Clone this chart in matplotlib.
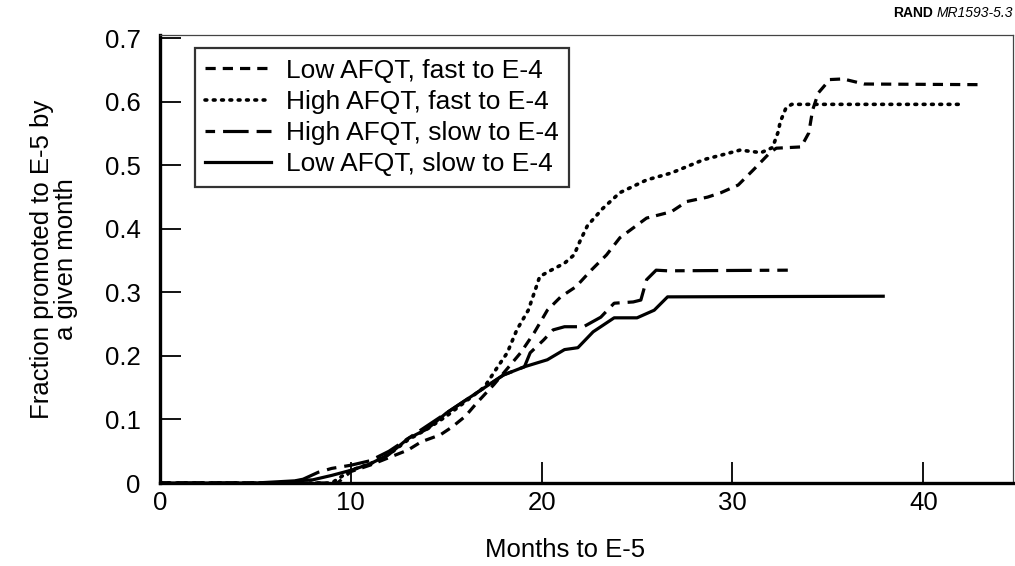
"""Fraction promoted to E-5 by month, four AFQT / E-4 speed groups."""

import matplotlib
matplotlib.use("Agg")
import matplotlib.pyplot as plt

plt.rcParams['font.family'] = ['Liberation Sans', 'DejaVu Sans']

# data (months, fraction)
low_fast_x = [0, 9.3, 10, 11, 12, 13, 13.7, 14.7, 15.3, 16, 16.6, 17.5, 18.2, 18.9, 19.6, 20.3, 21.0,
              21.8, 22.6, 23.4, 24.1, 25.5, 26.8, 27.6, 28.7, 29.4, 30.3, 31.1, 32.0, 32.3, 33.6,
              34.0, 34.2, 34.5, 35.1, 35.8, 36.9, 42.9]
low_fast_y = [0, 0, 0.018, 0.028, 0.04, 0.052, 0.065, 0.076, 0.088, 0.105, 0.126, 0.155, 0.18, 0.205,
              0.236, 0.272, 0.293, 0.309, 0.335, 0.359, 0.386, 0.417, 0.427, 0.443, 0.45, 0.457,
              0.469, 0.493, 0.521, 0.527, 0.529, 0.551, 0.587, 0.614, 0.635, 0.636, 0.628, 0.627]

high_fast_x = [0, 9.0, 10, 11, 12, 13, 14, 15, 16, 17, 17.7, 18.2, 18.7, 19.3, 19.7, 19.9, 20.5,
               21.2, 21.7, 22.0, 22.4, 23.2, 24.1, 25.5, 26.8, 28.5, 29.4, 30.4, 31.5, 32.1, 32.4,
               32.5, 32.8, 33.1, 42.0]
high_fast_y = [0, 0, 0.02, 0.03, 0.045, 0.068, 0.085, 0.105, 0.128, 0.151, 0.183, 0.205, 0.241,
               0.272, 0.307, 0.325, 0.335, 0.346, 0.359, 0.38, 0.405, 0.432, 0.457, 0.477, 0.488,
               0.509, 0.516, 0.524, 0.52, 0.528, 0.553, 0.568, 0.59, 0.596, 0.596]

high_slow_x = [0, 6.5, 7.5, 8.3, 9.0, 10, 11, 12, 13, 14, 15, 16, 17, 18, 19.1, 19.4, 20.1, 20.6,
               21.2, 22.2, 23.1, 23.8, 24.8, 25.2, 25.5, 26.0, 26.6, 32.9]
high_slow_y = [0, 0, 0.006, 0.017, 0.023, 0.028, 0.035, 0.05, 0.07, 0.09, 0.11, 0.13, 0.15, 0.17,
               0.183, 0.205, 0.225, 0.241, 0.246, 0.246, 0.261, 0.283, 0.285, 0.288, 0.32, 0.335,
               0.334, 0.335]

low_slow_x = [0, 5.0, 8, 9, 10, 11, 12, 13, 14, 15, 16, 17, 18, 19.1, 20.3, 21.2, 21.9, 22.7,
              23.5, 23.8, 25.0, 25.9, 26.6, 37.9]
low_slow_y = [0, 0, 0.005, 0.012, 0.02, 0.03, 0.045, 0.07, 0.085, 0.11, 0.13, 0.15, 0.17, 0.183,
              0.194, 0.21, 0.213, 0.238, 0.254, 0.26, 0.26, 0.272, 0.293, 0.294]

labels = ['Low AFQT, fast to E-4', 'High AFQT, fast to E-4',
          'High AFQT, slow to E-4', 'Low AFQT, slow to E-4']

fs = 18.5

fig = plt.figure(figsize=(10.15, 5.66), dpi=100)
ax = fig.add_axes([0.1576, 0.1466, 0.8404, 0.7914])

lw = 2.3
ax.plot(low_fast_x, low_fast_y, color='black', lw=lw, ls=(0, (3.2, 2.2)), label=labels[0])
ax.plot(high_fast_x, high_fast_y, color='black', lw=2.6, ls=(0, (0.5, 1.8)),
        dash_capstyle='round', label=labels[1])
ax.plot(high_slow_x, high_slow_y, color='black', lw=lw, ls=(0, (3, 2.5, 8, 2.5, 8, 2.5)), label=labels[2])
ax.plot(low_slow_x, low_slow_y, color='black', lw=lw, ls='-', label=labels[3])

ax.set_xlim(0, 44.7)
ax.set_ylim(0, 0.705)
ax.set_xticks([0, 10, 20, 30, 40])
ax.set_yticks([0, 0.1, 0.2, 0.3, 0.4, 0.5, 0.6, 0.7])
ax.set_yticklabels(['0', '0.1', '0.2', '0.3', '0.4', '0.5', '0.6', '0.7'])
ax.tick_params(axis='both', direction='in', length=15, width=1.3, labelsize=fs, color='black')
ax.tick_params(axis='y', pad=14)
ax.tick_params(axis='x', pad=6)

for side in ['left', 'bottom']:
    ax.spines[side].set_linewidth(2.4)
for side in ['top', 'right']:
    ax.spines[side].set_linewidth(0.9)
    ax.spines[side].set_color('#444444')

ax.set_xlabel('Months to E-5', fontsize=fs)
ax.xaxis.set_label_coords(0.475, -0.123)
ax.set_ylabel('Fraction promoted to E-5 by\na given month', fontsize=fs, linespacing=1.0)
ax.yaxis.set_label_coords(-0.096, 0.5)

leg = ax.legend(loc='upper left', bbox_to_anchor=(0.041, 0.971), fontsize=19, frameon=True,
                fancybox=False, handlelength=2.5, handletextpad=0.55, borderpad=0.4,
                labelspacing=0.27, borderaxespad=0)
leg.get_frame().set_edgecolor('black')
leg.get_frame().set_linewidth(1.6)

fig.text(0.919, 0.977, 'RAND', fontsize=10, fontweight='bold', ha='right', va='center')
fig.text(0.998, 0.977, 'MR1593-5.3', fontsize=10, style='italic', ha='right', va='center')

fig.savefig('out.png', dpi=100)
